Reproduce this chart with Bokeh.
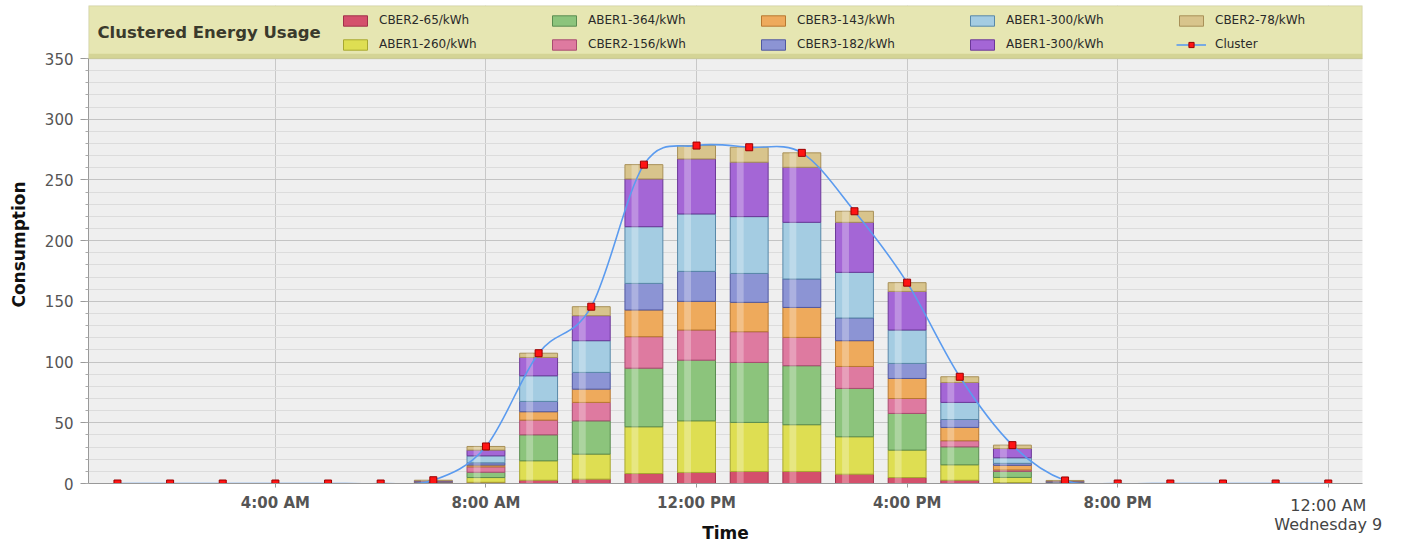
import numpy as np
from bokeh.plotting import figure
from bokeh.models import (Range1d, FixedTicker, ColumnDataSource, Legend, LegendItem, Label,
                          LinearAxis, BoxAnnotation)
from bokeh.transform import dodge
from bokeh.embed import file_html
from bokeh.resources import INLINE

# ---------------- data ----------------
hours = list(range(1, 25))  # 1:00 AM ... 12:00 AM (next day)
tick_hours = [4, 8, 12, 16, 20, 24]
tick_labels = ["4:00 AM", "8:00 AM", "12:00 PM", "4:00 PM", "8:00 PM", "12:00 AM"]
day_label = "Wednesday 9"
y_ticks = [0, 50, 100, 150, 200, 250, 300, 350]

series_names = ["CBER2-65/kWh", "ABER1-260/kWh", "ABER1-364/kWh", "CBER2-156/kWh",
                "CBER3-143/kWh", "CBER3-182/kWh", "ABER1-300/kWh", "ABER1-300/kWh",
                "CBER2-78/kWh"]

cber2_65   = [0, 0, 0, 0, 0, 0, 0.2, 1.0, 2.7, 3.6, 8.2, 9.1, 9.9, 9.9, 7.7, 4.9, 2.7, 0.8, 0.2, 0, 0, 0, 0, 0]
aber1_260  = [0, 0, 0, 0, 0, 0, 0.3, 3.9, 16.0, 20.6, 38.5, 42.5, 40.4, 38.5, 30.8, 22.6, 12.7, 4.2, 0.3, 0, 0, 0, 0, 0]
aber1_364  = [0, 0, 0, 0, 0, 0, 0.4, 4.4, 21.4, 27.4, 48.3, 50.0, 49.4, 48.6, 39.8, 30.2, 14.8, 5.0, 0.3, 0, 0, 0, 0, 0]
cber2_156  = [0, 0, 0, 0, 0, 0, 0.2, 4.4, 12.1, 15.2, 25.9, 24.8, 25.3, 23.3, 18.1, 12.3, 5.0, 1.2, 0.2, 0, 0, 0, 0, 0]
cber3_143  = [0, 0, 0, 0, 0, 0, 0.2, 1.5, 6.9, 10.9, 22.0, 23.6, 24.2, 24.7, 21.2, 16.5, 11.0, 3.8, 0.2, 0, 0, 0, 0, 0]
cber3_182  = [0, 0, 0, 0, 0, 0, 0.2, 1.8, 8.5, 13.8, 21.9, 24.7, 23.8, 23.4, 18.7, 12.4, 6.5, 1.6, 0.2, 0, 0, 0, 0, 0]
aber1_300a = [0, 0, 0, 0, 0, 0, 0.4, 5.8, 21.1, 26.1, 46.7, 47.3, 46.8, 46.7, 37.6, 27.5, 14.1, 4.6, 0.3, 0, 0, 0, 0, 0]
aber1_300b = [0, 0, 0, 0, 0, 0, 0.3, 4.7, 15.1, 20.6, 39.3, 45.3, 44.8, 45.3, 41.2, 31.8, 16.4, 7.6, 0.3, 0, 0, 0, 0, 0]
cber2_78   = [0, 0, 0, 0, 0, 0, 0.5, 3.0, 3.5, 7.4, 11.8, 11.0, 12.3, 11.9, 9.1, 7.2, 4.7, 2.8, 0.5, 0, 0, 0, 0, 0]
cluster    = [0, 0, 0, 0, 0, 0, 2.7, 30.5, 107.3, 145.6, 262.6, 278.3, 276.9, 272.3, 224.2, 165.4, 87.9, 31.6, 2.5, 0, 0, 0, 0, 0]

series = [cber2_65, aber1_260, aber1_364, cber2_156, cber3_143, cber3_182, aber1_300a, aber1_300b, cber2_78]

# ---------------- styles ----------------
fills = ["#d4506c", "#dede52", "#8cc47c", "#de7aa0", "#eeaa5c", "#8c94d4", "#a4cce2", "#a466d6", "#d8c48c"]
lines = ["#a0304a", "#a8a830", "#5a8c50", "#a84c70", "#b87830", "#5058a0", "#5888a8", "#6c3898", "#a89058"]
curve_color = "#5b9bef"
FONT = "DejaVu Sans"

keys = [f"s{i}" for i in range(len(series))]
data = {"hour": hours, "cluster": cluster}
for k, s in zip(keys, series):
    data[k] = s
src = ColumnDataSource(data)

FRAME_W, FRAME_H = 1274, 478
PLOT_PX = 425                      # pixels used by 0..350, the rest of the frame is the legend band
y_top = y_ticks[-1] * FRAME_H / PLOT_PX

xr = Range1d(0.45, 24.65)
yr = Range1d(0, y_top)

p = figure(frame_width=FRAME_W, frame_height=FRAME_H, x_range=xr, y_range=yr,
           toolbar_location=None, output_backend="svg", x_axis_location=None,
           min_border_left=88, min_border_right=30, min_border_top=5, min_border_bottom=0)
p.title.visible = False
p.background_fill_color = "#efefef"
p.border_fill_color = "white"
p.outline_line_color = None

# bars
bar_renderers = p.vbar_stack(keys, x="hour", width=0.72, source=src,
                             fill_color=fills, line_color=lines, line_width=1)
# glossy highlight strip on each segment
p.vbar_stack(keys, x=dodge("hour", -0.17), width=0.13, source=src,
             fill_color="white", fill_alpha=0.28, line_color=None)

# smooth cluster curve (Catmull-Rom segments drawn as Bezier curves)
xs = np.array(hours, dtype=float)
ys = np.array(cluster, dtype=float)
xp = np.concatenate([[xs[0]], xs, [xs[-1]]])
yp = np.concatenate([[ys[0]], ys, [ys[-1]]])
n = len(xs)
cx0 = xp[1:n] + (xp[2:n + 1] - xp[0:n - 1]) / 6.0
cy0 = yp[1:n] + (yp[2:n + 1] - yp[0:n - 1]) / 6.0
cx1 = xp[2:n + 1] - (xp[3:n + 2] - xp[1:n]) / 6.0
cy1 = yp[2:n + 1] - (yp[3:n + 2] - yp[1:n]) / 6.0
curve_r = p.bezier(x0=xs[:-1], y0=ys[:-1], x1=xs[1:], y1=ys[1:], cx0=cx0, cy0=cy0, cx1=cx1, cy1=cy1,
                   line_color=curve_color, line_width=1.6)
rs_main = p.scatter("hour", "cluster", source=src, marker="square", size=7,
                    fill_color="#ff1414", line_color="#9a0000", line_width=1)

# ---------------- x axes ----------------
# axis nearest to the frame: tick marks + the two-line last label
ax_day = LinearAxis(ticker=FixedTicker(ticks=tick_hours),
                    major_label_overrides={h: ("" if h != tick_hours[-1] else tick_labels[-1] + "\n" + day_label)
                                           for h in tick_hours})
ax_day.major_label_text_font = FONT
ax_day.major_label_text_font_size = "16px"
ax_day.major_label_text_color = "#444444"
ax_day.major_label_text_line_height = 1.0
ax_day.major_label_standoff = 8
ax_day.major_tick_out = 4
ax_day.major_tick_in = 0
ax_day.minor_tick_line_color = None
ax_day.axis_line_color = "#999999"
ax_day.major_tick_line_color = "#999999"
p.add_layout(ax_day, "below")

# bold hour labels, pulled up next to the day label, carrying the axis title
ax_time = LinearAxis(ticker=FixedTicker(ticks=tick_hours[:-1]),
                     major_label_overrides={h: lab for h, lab in zip(tick_hours[:-1], tick_labels[:-1])})
ax_time.major_label_text_font = FONT
ax_time.major_label_text_font_size = "15px"
ax_time.major_label_text_font_style = "bold"
ax_time.major_label_text_color = "#555555"
ax_time.major_label_standoff = -43
ax_time.major_tick_out = 0
ax_time.major_tick_in = 0
ax_time.major_tick_line_color = None
ax_time.minor_tick_line_color = None
ax_time.axis_line_color = None
ax_time.axis_label = "Time"
ax_time.axis_label_text_font = FONT
ax_time.axis_label_text_font_size = "17px"
ax_time.axis_label_text_font_style = "bold"
ax_time.axis_label_text_color = "#111111"
ax_time.axis_label_standoff = 8
p.add_layout(ax_time, "below")

# ---------------- y axis ----------------
p.yaxis.ticker = FixedTicker(ticks=y_ticks, minor_ticks=list(range(0, y_ticks[-1] + 1, 10)))
p.yaxis.bounds = (0, y_ticks[-1])
p.yaxis.major_label_text_font = FONT
p.yaxis.major_label_text_font_size = "15px"
p.yaxis.major_label_text_color = "#555555"
p.yaxis.major_label_standoff = 7
p.yaxis.major_tick_out = 8
p.yaxis.major_tick_in = 0
p.yaxis.minor_tick_out = 3
p.yaxis.minor_tick_in = 0
p.yaxis.axis_line_color = "#999999"
p.yaxis.major_tick_line_color = "#999999"
p.yaxis.minor_tick_line_color = "#aaaaaa"
p.yaxis.axis_label = "Consumption"
p.yaxis.axis_label_text_font = FONT
p.yaxis.axis_label_text_font_size = "17px"
p.yaxis.axis_label_text_font_style = "bold"
p.yaxis.axis_label_text_color = "#111111"
p.yaxis.axis_label_standoff = 13

p.xgrid.ticker = FixedTicker(ticks=tick_hours)
p.xgrid.grid_line_color = "#c8c8c8"
p.ygrid.grid_line_color = "#c4c4c4"
p.ygrid.minor_grid_line_color = "#dcdcdc"

# ---------------- legend band ----------------
p.add_layout(BoxAnnotation(left=xr.start, right=xr.end, bottom=y_ticks[-1], top=y_top,
                           fill_color="#e6e6b2", fill_alpha=1.0,
                           line_color="#a8a866", line_width=1.5))
p.add_layout(BoxAnnotation(left=xr.start, right=xr.end, bottom=y_ticks[-1], top=y_ticks[-1] + 4,
                           fill_color="#cfcf8e", fill_alpha=0.8, line_color=None))

p.add_layout(Label(x=9, x_units="screen", y=(y_ticks[-1] + y_top) / 2, text="Clustered Energy Usage",
                   text_font=FONT, text_font_size="16.5px", text_font_style="bold",
                   text_baseline="middle", text_color="#3a3a2c"))

items = []
for r, name in zip(bar_renderers, series_names):
    items.append(LegendItem(label=name, renderers=[r]))
items.append(LegendItem(label="Cluster", renderers=[curve_r, rs_main]))

leg = Legend(items=items, orientation="vertical", nrows=2, location=(252, 429),
             glyph_width=30, glyph_height=13, label_width=166, label_height=20,
             label_standoff=9, spacing=4, padding=0, margin=0,
             border_line_color=None, background_fill_alpha=0,
             label_text_font=FONT, label_text_font_size="12px", label_text_color="#2a2a2a")
p.add_layout(leg, "center")

open("out.html", "w").write(file_html(p, INLINE))
